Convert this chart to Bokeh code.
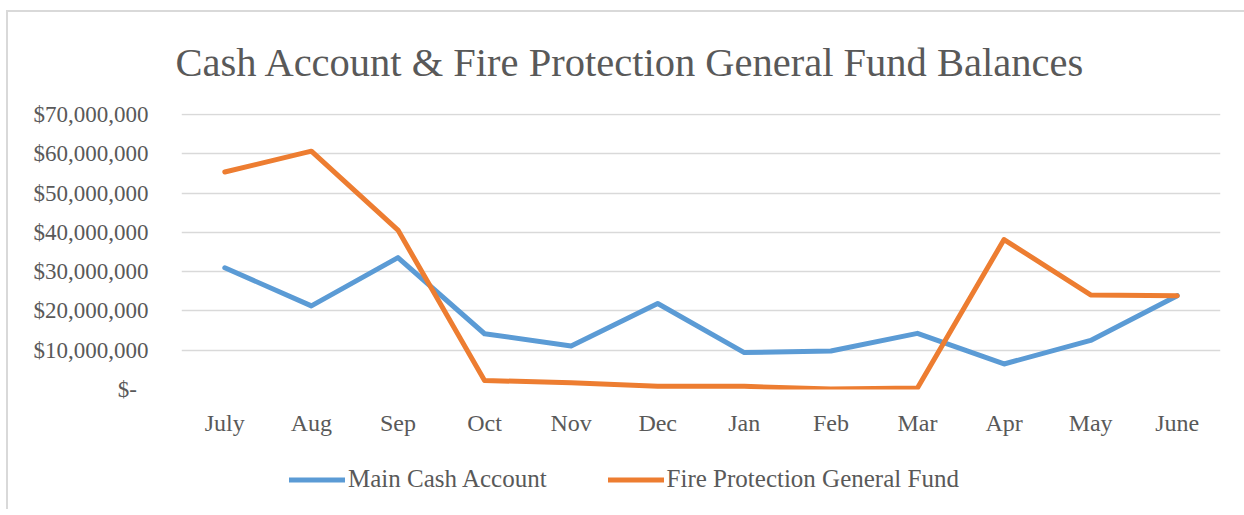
from bokeh.plotting import figure
from bokeh.layouts import column
from bokeh.models import Range1d, FixedTicker, Legend, LegendItem
from bokeh.embed import file_html
from bokeh.resources import INLINE

# ---- data (values in dollars) ----
months = ["July", "Aug", "Sep", "Oct", "Nov", "Dec", "Jan", "Feb", "Mar", "Apr", "May", "June"]
main_cash = [31.0e6, 21.3e6, 33.6e6, 14.2e6, 11.1e6, 21.9e6, 9.4e6, 9.8e6, 14.3e6, 6.5e6, 12.5e6, 23.9e6]
fire_fund = [55.4e6, 60.7e6, 40.6e6, 2.3e6, 1.7e6, 0.8e6, 0.8e6, 0.1e6, 0.4e6, 38.2e6, 24.1e6, 23.9e6]
y_ticks = [0, 10000000, 20000000, 30000000, 40000000, 50000000, 60000000, 70000000]
y_tick_labels = ["$-\u00a0\u00a0", "$10,000,000", "$20,000,000", "$30,000,000", "$40,000,000",
                 "$50,000,000", "$60,000,000", "$70,000,000"]
title_text = "Cash Account & Fire Protection General Fund Balances"
series_names = ["Main Cash Account", "Fire Protection General Fund"]

FONT = "Liberation Serif"
TXT = "#595959"
BLUE = "#5B9BD5"
ORANGE = "#ED7D31"
GRID = "#D9D9D9"

x_idx = list(range(len(months)))

p = figure(frame_width=1039, frame_height=276, output_backend="svg", toolbar_location=None,
           x_range=Range1d(-0.5, len(months) - 0.5), y_range=Range1d(0, 70300000),
           min_border_left=173, min_border_right=24, min_border_top=101, min_border_bottom=60)
p.outline_line_color = None
p.background_fill_color = "white"
p.border_fill_color = "white"

# title
p.title.text = title_text
p.title.align = "left"
p.title.offset = -6
p.title.vertical_align = "top"
p.title.standoff = 54
p.title.text_font = FONT
p.title.text_font_size = "40.5px"
p.title.text_font_style = "normal"
p.title.text_color = TXT

# axes
p.xaxis.ticker = FixedTicker(ticks=x_idx)
p.xaxis.major_label_overrides = {i: m for i, m in zip(x_idx, months)}
p.yaxis.ticker = FixedTicker(ticks=y_ticks)
p.yaxis.major_label_overrides = {t: l for t, l in zip(y_ticks, y_tick_labels)}
for ax in (p.xaxis, p.yaxis):
    ax.axis_line_color = None
    ax.major_tick_line_color = None
    ax.minor_tick_line_color = None
    ax.major_label_text_font = FONT
    ax.major_label_text_color = TXT
p.yaxis.major_label_text_font_size = "23px"
p.xaxis.major_label_text_font_size = "24px"
p.xaxis.major_label_standoff = 14
p.yaxis.major_label_standoff = 27

p.xgrid.grid_line_color = None
p.ygrid.ticker = FixedTicker(ticks=y_ticks)
p.ygrid.grid_line_color = GRID
p.ygrid.grid_line_width = 1.5

line_kw = dict(line_width=5, line_join="round", line_cap="round")
r1 = p.line(x_idx, main_cash, line_color=BLUE, **line_kw)
r2 = p.line(x_idx, fire_fund, line_color=ORANGE, **line_kw)

# legend strip (separate frameless figure so nothing clips the legend)
lg = figure(width=1236, height=60, output_backend="svg", toolbar_location=None,
            x_range=Range1d(0, 1), y_range=Range1d(0, 1),
            x_axis_location=None, y_axis_location=None, min_border=0)
lg.grid.visible = False
lg.outline_line_color = None
lg.border_fill_color = "white"
# legend-only renderers, placed outside the visible range
l1 = lg.line([-2, -1], [-2, -2], line_color=BLUE, **line_kw)
l2 = lg.line([-2, -1], [-2, -2], line_color=ORANGE, **line_kw)
legend = Legend(items=[LegendItem(label=series_names[0], renderers=[l1]),
                       LegendItem(label=series_names[1], renderers=[l2])],
                location=(108, 16), orientation="horizontal", padding=0, margin=0, spacing=61,
                glyph_width=56, glyph_height=25, label_height=25, label_standoff=3,
                label_text_font=FONT, label_text_font_size="25px", label_text_color=TXT,
                border_line_color=None, background_fill_alpha=0)
lg.add_layout(legend, "center")

layout = column(p, lg, spacing=0,
                styles={"border-left": "2px solid #D9D9D9", "border-top": "2px solid #D9D9D9",
                        "margin": "10px 0px 0px 6px"})

open("out.html", "w").write(file_html(layout, INLINE))
